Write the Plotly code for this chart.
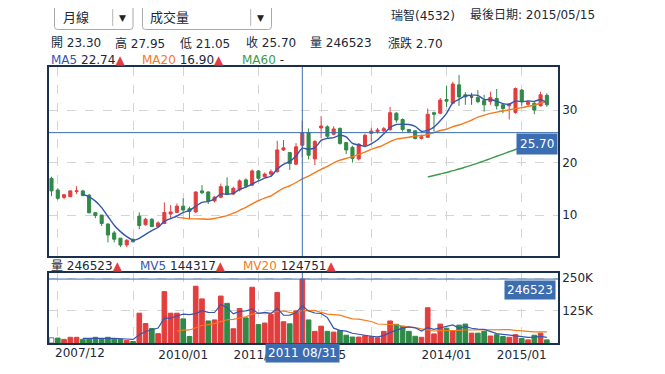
import plotly.graph_objects as go
import pandas as pd
import numpy as np

# ---------------- data ----------------
opens = [17.0, 14.76, 13.37, 13.5, 14.5, 14.6, 13.8, 10.45, 10.0, 8.3,
         6.6, 5.6, 4.3, 5.4, 9.8, 8.15, 9.2, 7.8, 8.4, 10.2,
         10.5, 11.7, 11.2, 10.6, 14.6, 14.4, 12.7, 13.4, 15.5, 14.0,
         14.8, 16.7, 15.7, 18.4, 17.3, 17.8, 18.25, 22.4, 21.9, 19.7,
         23.30, 25.7, 20.7, 26.6, 26.8, 25.4, 26.5, 23.8, 22.9, 20.7,
         23.3, 25.55, 25.9, 26.05, 26.3, 29.4, 28.2, 26.3, 26.05, 24.6,
         24.8, 29.5, 29.4, 32.0, 31.3, 34.8, 32.9, 32.5, 32.4, 31.8,
         31.6, 32.2, 31.0, 30.8, 29.55, 33.8, 31.1, 31.3, 30.8, 32.8]
highs = [17.3, 15.1, 14.0, 14.7, 15.5, 14.8, 14.0, 10.5, 10.0, 8.4,
         7.0, 5.6, 5.4, 5.5, 10.5, 9.5, 9.4, 8.8, 12.4, 11.9,
         12.2, 13.2, 11.6, 14.5, 15.7, 14.5, 13.6, 16.0, 17.2, 15.4,
         16.8, 17.0, 18.7, 18.6, 18.1, 18.7, 24.15, 24.3, 22.0, 23.7,
         27.95, 26.5, 24.3, 28.85, 27.1, 26.9, 26.7, 23.8, 23.2, 23.7,
         25.5, 26.6, 26.6, 26.8, 30.6, 29.6, 28.4, 26.4, 26.1, 25.3,
         30.3, 29.7, 32.3, 34.6, 35.4, 36.7, 33.4, 33.3, 33.8, 32.9,
         33.5, 34.0, 31.2, 31.3, 34.3, 34.0, 31.8, 31.5, 33.5, 33.2]
lows = [13.6, 12.9, 13.0, 13.4, 14.0, 13.6, 10.3, 9.4, 7.9, 4.8,
        4.8, 3.9, 3.9, 4.8, 7.3, 8.0, 7.7, 7.7, 8.3, 9.4,
        10.4, 10.6, 9.2, 10.4, 14.0, 12.1, 12.4, 13.2, 13.8, 13.8,
        14.5, 15.1, 15.5, 16.7, 17.2, 17.3, 18.1, 22.2, 18.6, 19.5,
        21.05, 20.6, 19.5, 24.6, 24.6, 25.2, 23.4, 21.6, 20.0, 20.4,
        22.9, 24.0, 25.5, 25.7, 26.0, 27.6, 25.9, 25.6, 24.4, 24.4,
        24.7, 25.9, 29.2, 30.6, 31.1, 30.8, 31.0, 31.0, 31.3, 29.7,
        31.0, 30.1, 29.4, 28.2, 29.3, 30.8, 30.7, 29.2, 30.7, 30.6]
closes = [14.6, 13.2, 13.87, 14.6, 14.6, 13.7, 10.45, 9.9, 8.4, 6.2,
          5.4, 4.3, 5.2, 4.9, 8.0, 9.2, 7.8, 8.5, 10.5, 10.6,
          11.7, 10.95, 10.7, 14.4, 14.25, 12.7, 13.4, 15.4, 14.0, 15.1,
          16.5, 15.5, 18.4, 17.0, 17.8, 18.25, 22.4, 22.8, 19.8, 23.0,
          25.70, 21.4, 24.0, 26.95, 25.0, 26.4, 23.65, 22.4, 20.8, 23.5,
          25.2, 26.0, 26.2, 26.45, 29.5, 28.1, 26.3, 25.9, 24.6, 24.9,
          29.2, 29.2, 31.9, 31.7, 34.95, 32.5, 32.5, 32.5, 31.6, 31.0,
          32.4, 30.8, 30.3, 31.1, 34.1, 31.6, 31.5, 30.0, 32.9, 31.0]
volumes = [20000, 19000, 14000, 22000, 22000, 14000, 15000, 22000, 15000, 22000,
           15000, 15000, 10000, 6000, 115000, 75000, 56000, 36000, 198000, 115000,
           115000, 93000, 25000, 219000, 170000, 85000, 89000, 181000, 153000, 55000,
           133000, 97000, 215000, 71000, 77000, 110435, 195000, 82000, 74000, 124062,
           246523, 89000, 45000, 65000, 45000, 42000, 48000, 30000, 23000, 23000,
           28000, 26000, 20000, 45000, 85000, 72000, 65000, 45000, 26000, 22000,
           136000, 35000, 73000, 57000, 48000, 69000, 73000, 38000, 38000, 45000,
           27000, 32000, 25000, 22000, 32000, 17000, 12000, 30000, 38000, 12000]
# volume bar colour: r = up, g = down, n = none (hollow)
vol_dirs = ["n", "g", "r", "r", "r", "g", "g", "g", "g", "g",
            "g", "g", "r", "g", "r", "r", "g", "r", "r", "r",
            "r", "g", "g", "r", "r", "g", "r", "r", "g", "r",
            "r", "g", "r", "g", "r", "r", "r", "r", "g", "r",
            "r", "g", "r", "r", "g", "r", "g", "g", "g", "r",
            "r", "r", "r", "r", "r", "g", "g", "g", "g", "r",
            "r", "r", "r", "g", "r", "g", "g", "r", "g", "g",
            "r", "g", "g", "r", "r", "g", "r", "g", "r", "g"]

grid_ticks = [1, 13, 21, 33, 43, 51, 63, 75]
grid_labels = ["", "", "2010/01", "2011/01", "2012/05", "", "2014/01", "2015/01"]
first_label = "2007/12"
doji_bars = [67]
cross_idx = 40
cross_label = "2011 08/31"
stock_name = "瑞智(4532)"
last_date = "2015/05/15"
period_name = "月線"
indicator_name = "成交量"

# ---------------- derived (moving averages) ----------------
n = len(closes)
idx = list(range(n))


def rolling(vals, w):
    s = pd.Series(vals[1:], dtype=float).rolling(w).mean()
    return [None] + [None if np.isnan(v) else float(v) for v in s]


ma5 = rolling(closes, 5)
ma20 = rolling(closes, 20)
ma60 = rolling(closes, 60)
mv5 = rolling(volumes, 5)
mv20 = rolling(volumes, 20)

# ---------------- styling ----------------
RED = "#e23e3e"
GREEN = "#2f8a47"
BLUE = "#3556b0"
ORANGE = "#f47a1c"
MGREEN = "#3e9a4c"
CROSS = "#3b6db0"
BORDER = "#1b2f4e"
GRID = "#d4d4d4"
TXT = "#1c2838"
FONT = "DejaVu Sans, Noto Sans CJK TC, sans-serif"

PAGE_OFF = 8            # default body margin of the html page
W, H = 665, 374         # page size
L, R, T, B = 49, 558, 67, 343   # plot area in page pixels
VOL_TOP = 273
MAIN_BOT = 256


def px2x(px):
    return (px - L) / (R - L)


def py2y(py):
    return (B - py) / (B - T)


fig = go.Figure()

normal = [i for i in idx if i not in doji_bars]
fig.add_trace(go.Candlestick(
    x=[idx[i] for i in normal],
    open=[opens[i] for i in normal], high=[highs[i] for i in normal],
    low=[lows[i] for i in normal], close=[closes[i] for i in normal],
    increasing=dict(line=dict(color=RED, width=1), fillcolor=RED),
    decreasing=dict(line=dict(color=GREEN, width=1), fillcolor=GREEN),
    xaxis="x", yaxis="y", hoverinfo="skip"))
fig.add_trace(go.Candlestick(
    x=[idx[i] for i in doji_bars],
    open=[opens[i] for i in doji_bars], high=[highs[i] for i in doji_bars],
    low=[lows[i] for i in doji_bars], close=[closes[i] for i in doji_bars],
    increasing=dict(line=dict(color="#555555", width=1), fillcolor="#555555"),
    decreasing=dict(line=dict(color="#555555", width=1), fillcolor="#555555"),
    xaxis="x", yaxis="y", hoverinfo="skip"))

for ys, col in [(ma60, MGREEN), (ma20, ORANGE), (ma5, BLUE)]:
    fig.add_trace(go.Scatter(x=idx, y=ys, mode="lines",
                             line=dict(color=col, width=1.4, shape="spline", smoothing=0.6),
                             xaxis="x", yaxis="y", hoverinfo="skip"))

cmap = {"r": RED, "g": GREEN, "n": "#ffffff"}
lmap = {"r": RED, "g": GREEN, "n": "#777777"}
fig.add_trace(go.Bar(x=idx, y=volumes, width=0.74,
                     marker=dict(color=[cmap[d] for d in vol_dirs],
                                 line=dict(color=[lmap[d] for d in vol_dirs], width=1)),
                     xaxis="x2", yaxis="y2", hoverinfo="skip"))
for ys, col in [(mv20, ORANGE), (mv5, BLUE)]:
    fig.add_trace(go.Scatter(x=idx, y=ys, mode="lines", line=dict(color=col, width=1.2),
                             xaxis="x2", yaxis="y2", hoverinfo="skip"))

xr = [-0.4, 80.78]
main_dom = [py2y(MAIN_BOT), 1.0]
vol_dom = [0.0, py2y(VOL_TOP)]
axis_common = dict(showline=True, mirror=True, linecolor=BORDER, linewidth=1.5,
                   zeroline=False, gridcolor=GRID, griddash="dash", gridwidth=1,
                   ticks="", tickfont=dict(family=FONT, size=12, color=TXT), fixedrange=True)

fig.update_layout(
    width=W - PAGE_OFF, height=H - PAGE_OFF,
    margin=dict(l=L - PAGE_OFF, r=W - R, t=T - PAGE_OFF, b=H - B),
    paper_bgcolor="white", plot_bgcolor="white", showlegend=False,
    hovermode=False, font=dict(family=FONT, size=12, color=TXT),
    xaxis=dict(domain=[0, 1], range=xr, anchor="y", tickvals=grid_ticks,
               showticklabels=False, rangeslider=dict(visible=False), **axis_common),
    yaxis=dict(domain=main_dom, range=[2.2, 38.2], side="right", anchor="x",
               tickvals=[10, 20, 30], **axis_common),
    xaxis2=dict(domain=[0, 1], range=xr, anchor="y2", tickvals=grid_ticks,
                ticktext=grid_labels, rangeslider=dict(visible=False), **axis_common),
    yaxis2=dict(domain=vol_dom, range=[0, 270000], side="right", anchor="x2",
                tickvals=[125000, 250000], ticktext=["125K", "250K"], **axis_common),
)

# crosshair lines
shapes = [
    dict(type="line", xref="x", yref="y domain", x0=cross_idx, x1=cross_idx, y0=0, y1=1,
         line=dict(color=CROSS, width=1)),
    dict(type="line", xref="x2", yref="y2 domain", x0=cross_idx, x1=cross_idx, y0=0, y1=1,
         line=dict(color=CROSS, width=1)),
    dict(type="line", xref="x domain", yref="y", x0=0, x1=1, y0=closes[cross_idx],
         y1=closes[cross_idx], line=dict(color=CROSS, width=1)),
    dict(type="line", xref="x2 domain", yref="y2", x0=0, x1=1, y0=volumes[cross_idx],
         y1=volumes[cross_idx], line=dict(color=CROSS, width=1)),
]


def rrect_path(x0, y0, x1, y1, r):
    def p(x, y):
        return f"{px2x(x):.5f},{py2y(y):.5f}"
    return (f"M {p(x0 + r, y0)} L {p(x1 - r, y0)} Q {p(x1, y0)} {p(x1, y0 + r)} "
            f"L {p(x1, y1 - r)} Q {p(x1, y1)} {p(x1 - r, y1)} L {p(x0 + r, y1)} "
            f"Q {p(x0, y1)} {p(x0, y1 - r)} L {p(x0, y0 + r)} Q {p(x0, y0)} {p(x0 + r, y0)} Z")


for (bx0, bx1, sep) in [(54.5, 133, 112.7), (142.5, 271.5, 250.7)]:
    shapes.append(dict(type="path", xref="paper", yref="paper",
                       path=rrect_path(bx0, 5, bx1, 29.5, 3),
                       line=dict(color="#a9a9a9", width=1), fillcolor="white"))
    shapes.append(dict(type="line", xref="paper", yref="paper",
                       x0=px2x(sep), x1=px2x(sep), y0=py2y(9), y1=py2y(26),
                       line=dict(color="#b5b5b5", width=1)))
fig.update_layout(shapes=shapes)

ann = []


def text(px, py, s, size=12, anchor="left", color=TXT):
    ann.append(dict(xref="paper", yref="paper", x=px2x(px), y=py2y(py), text=s,
                    showarrow=False, xanchor=anchor, yanchor="middle",
                    font=dict(family=FONT, size=size, color=color)))


def span(s, c):
    return f'<span style="color:{c}">{s}</span>'


TRI = span("▲", RED)
text(60.5, 17.5, period_name, 13)
text(148, 17.5, indicator_name, 13)
text(122.7, 18, "▼", 9, "center", "#222222")
text(260.5, 18, "▼", 9, "center", "#222222")
text(389, 15, stock_name)
text(468, 15, f"最後日期: {last_date}")

o, h, lo, c = opens[cross_idx], highs[cross_idx], lows[cross_idx], closes[cross_idx]
chg = c - closes[cross_idx - 1]
for px, s in [(48.5, f"開 {o:.2f}"), (113, f"高 {h:.2f}"), (178, f"低 {lo:.2f}"),
              (244, f"收 {c:.2f}"), (308, f"量 {volumes[cross_idx]}"),
              (386, f"漲跌 {chg:.2f}")]:
    text(px, 43, s)


def fmt(v, d=2):
    return "-" if v is None else f"{v:.{d}f}"


text(48.5, 59.5, span("MA5", BLUE) + f" {fmt(ma5[cross_idx])}" + TRI)
text(140, 59.5, span("MA20", ORANGE) + f" {fmt(ma20[cross_idx])}" + TRI)
text(240, 59.5, span("MA60", MGREEN) + f" {fmt(ma60[cross_idx])}")
text(48.5, 265.5, f"量 {volumes[cross_idx]}" + TRI)
text(138, 265.5, span("MV5", BLUE) + f" {fmt(mv5[cross_idx], 0)}" + TRI)
text(241, 265.5, span("MV20", ORANGE) + f" {fmt(mv20[cross_idx], 0)}" + TRI)

# value tags
ann.append(dict(xref="paper", yref="y", x=1, y=closes[cross_idx], xanchor="right",
                yanchor="top", text=f"{closes[cross_idx]:.2f}", showarrow=False,
                bgcolor=CROSS, borderpad=3, font=dict(family=FONT, size=12, color="white")))
ann.append(dict(xref="paper", yref="y2", x=1, y=volumes[cross_idx], xanchor="right",
                yanchor="top", xshift=-2, yshift=-1, text=f"{volumes[cross_idx]}",
                showarrow=False, bgcolor=CROSS, borderpad=2,
                font=dict(family=FONT, size=12, color="white")))
ann.append(dict(xref="x2", yref="paper", x=0, y=0, xanchor="left", yanchor="top",
                text=first_label, showarrow=False, borderpad=2,
                font=dict(family=FONT, size=12, color=TXT)))
ann.append(dict(xref="x2", yref="paper", x=cross_idx, y=0, xanchor="center", yanchor="top",
                text=cross_label, showarrow=False, bgcolor=CROSS, borderpad=2,
                font=dict(family=FONT, size=12, color="white")))
fig.update_layout(annotations=ann)

fig.write_html("out.html")
